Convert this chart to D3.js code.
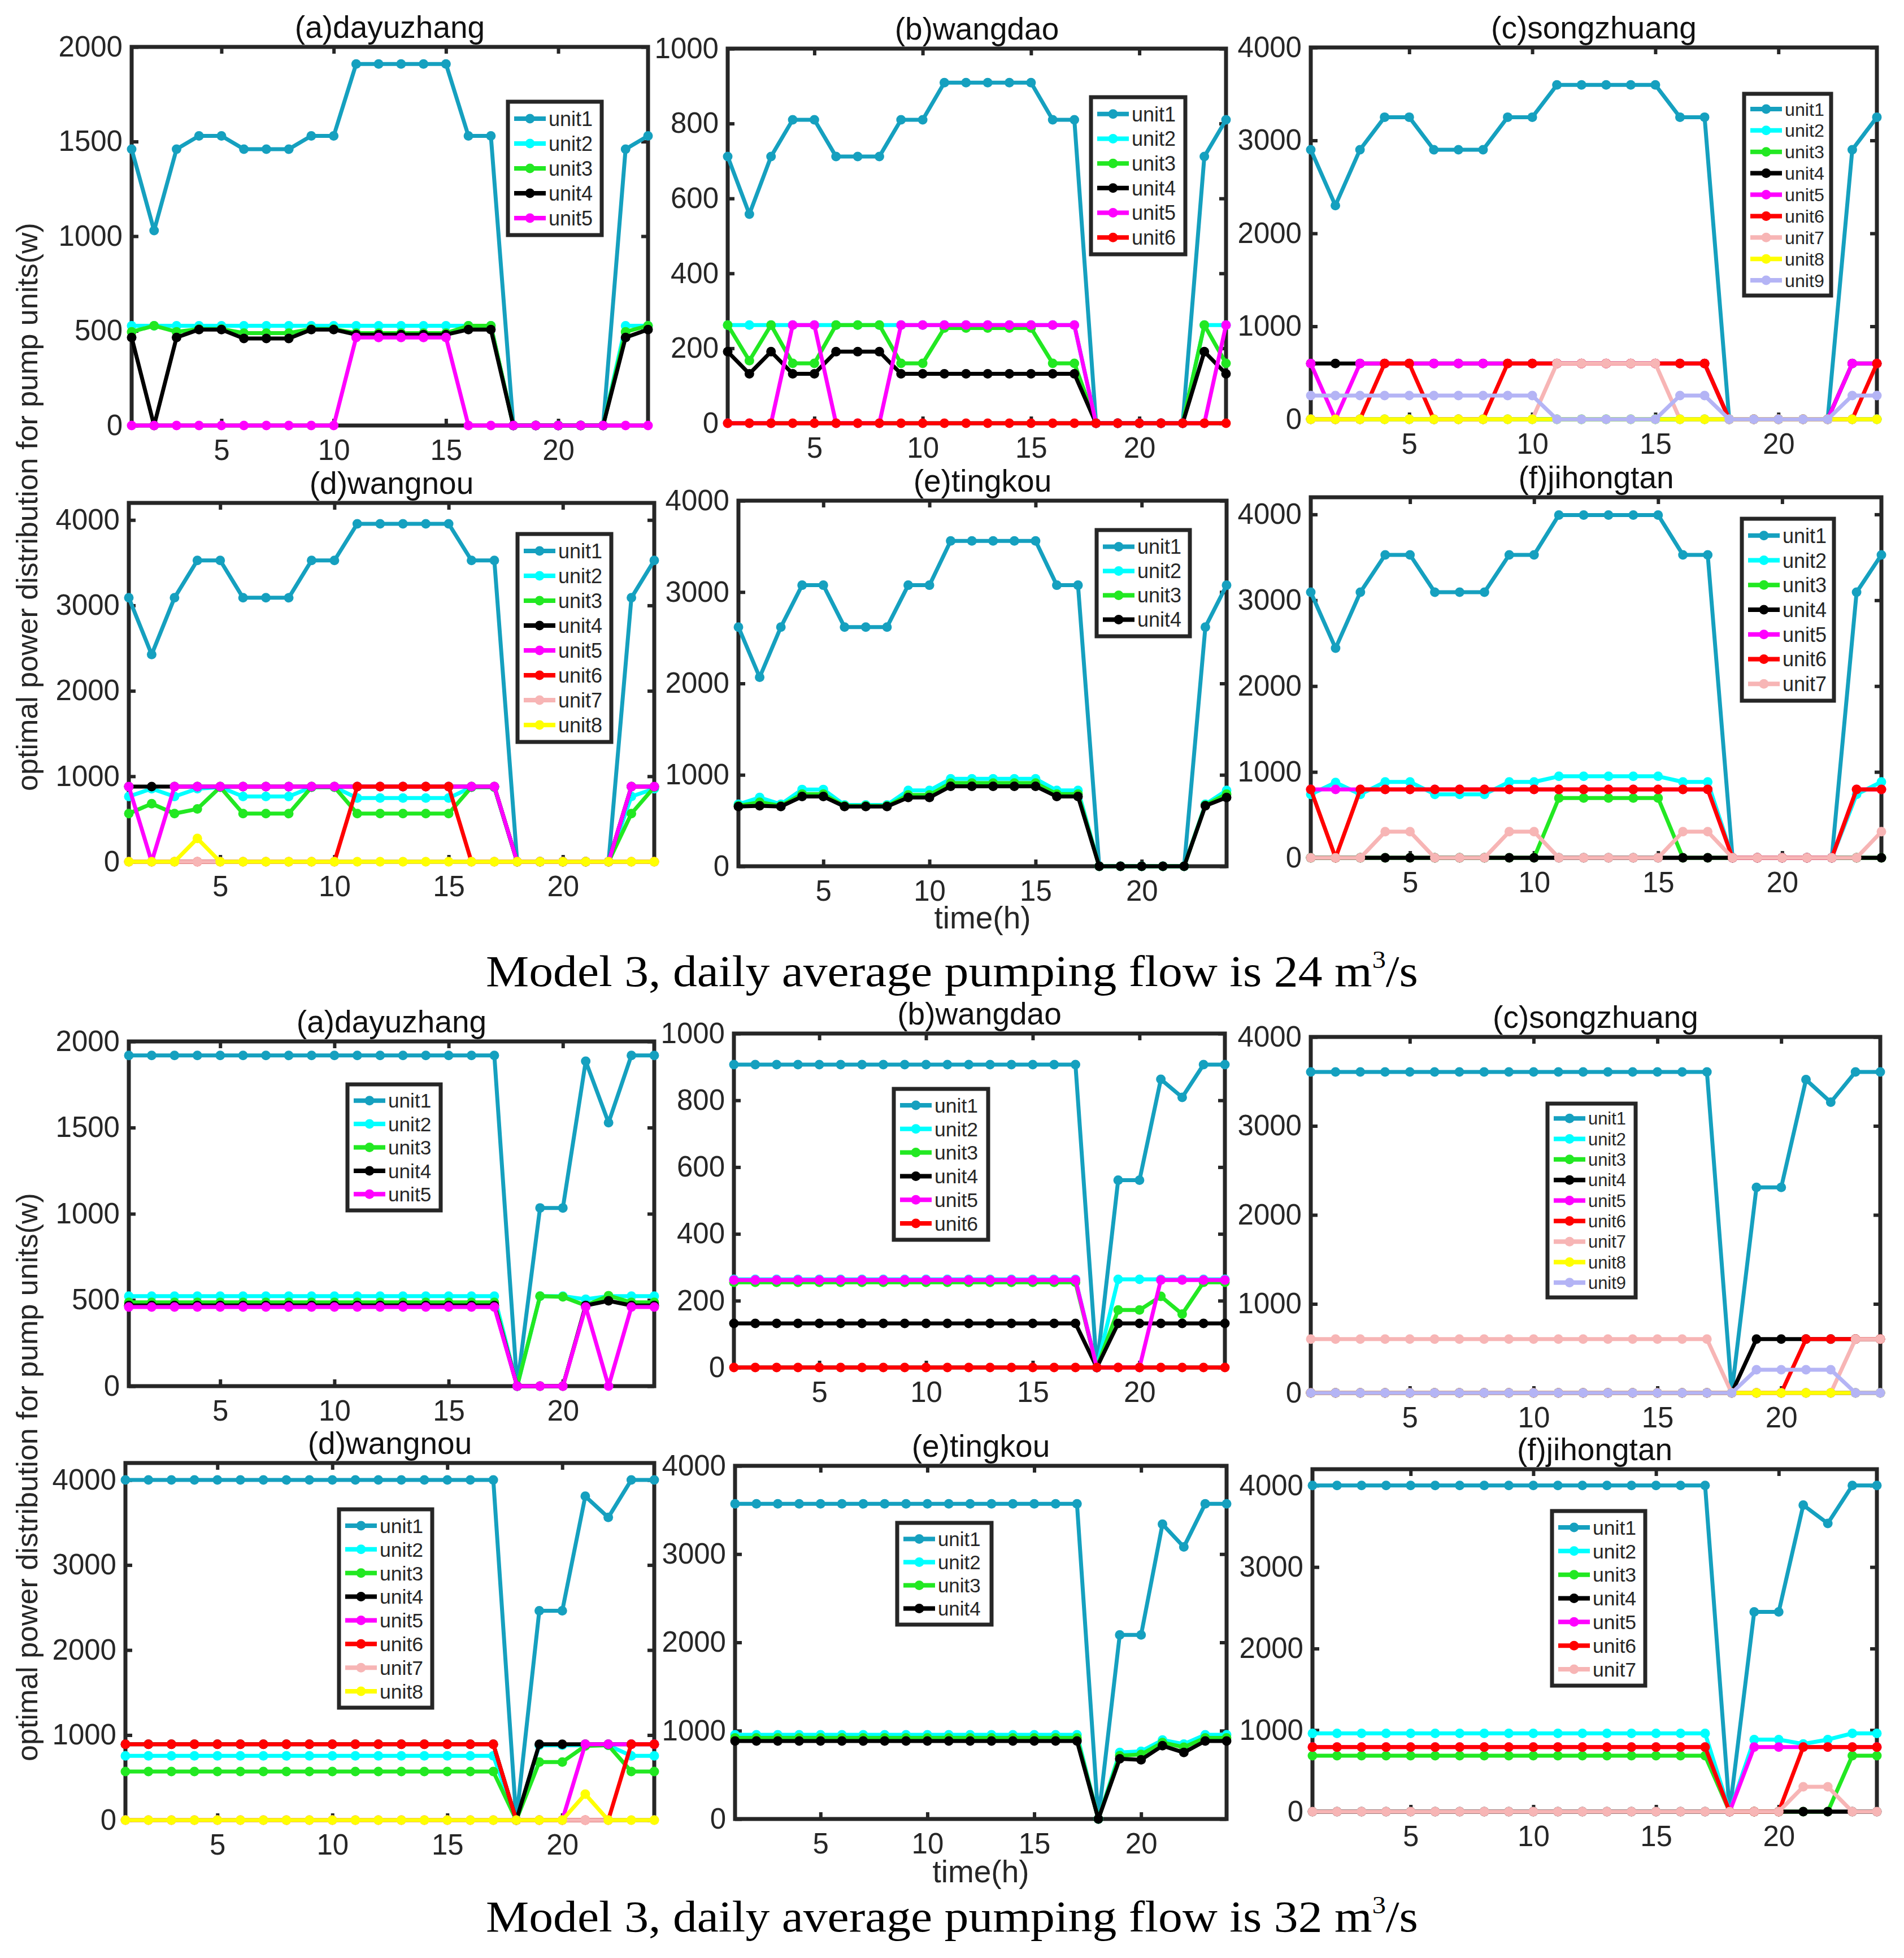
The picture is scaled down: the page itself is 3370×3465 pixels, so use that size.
<!DOCTYPE html>
<html>
<head>
<meta charset="utf-8">
<script src="https://cdn.jsdelivr.net/npm/d3@7"></script>
<style>
  html, body { margin: 0; padding: 0; background: #fff; }
  svg { display: block; }
</style>
</head>
<body>
<svg id="chart" width="3370" height="3465"></svg>
<script>
// hours on the x axis
const hours = [1,2,3,4,5,6,7,8,9,10,11,12,13,14,15,16,17,18,19,20,21,22,23,24];
const unitNames = ['unit1','unit2','unit3','unit4','unit5','unit6','unit7','unit8','unit9'];
const unitColors = ['#15a0bf','#00ffff','#22e822','#000000','#ff00ff','#ff0000','#f7b5b5','#ffff00','#b4b4f5'];
const xTicks = [5,10,15,20];
const yTicks2000 = [0,500,1000,1500,2000];
const yTicks1000 = [0,200,400,600,800,1000];
const yTicks4000 = [0,1000,2000,3000,4000];
const yLabel = 'optimal power distribution for pump units(w)';
const xLabel = 'time(h)';

// ---- daily average pumping flow 24 m3/s ----
const dayuzhang24 = [
  [1460,1030,1460,1530,1530,1460,1460,1460,1530,1530,1910,1910,1910,1910,1910,1530,1530,0,0,0,0,0,1460,1530],
  [527,527,527,527,527,527,527,527,527,527,527,527,527,527,527,527,527,0,0,0,0,0,527,527],
  [495,527,495,510,510,488,488,488,510,510,488,488,488,488,488,527,527,0,0,0,0,0,495,527],
  [465,0,465,507,507,460,460,460,507,507,480,480,480,480,480,507,507,0,0,0,0,0,465,507],
  [0,0,0,0,0,0,0,0,0,0,465,465,465,465,465,0,0,0,0,0,0,0,0,0]
];
const wangdao24 = [
  [712,558,712,810,810,712,712,712,810,810,909,909,909,909,909,810,810,0,0,0,0,0,712,810],
  [262,262,262,262,262,262,262,262,262,262,262,262,262,262,262,262,262,0,0,0,0,0,262,262],
  [262,167,262,160,160,262,262,262,160,160,254,254,254,254,254,160,160,0,0,0,0,0,262,160],
  [191,132,191,132,132,191,191,191,132,132,132,132,132,132,132,132,132,0,0,0,0,0,191,132],
  [0,0,0,262,262,0,0,0,262,262,262,262,262,262,262,262,262,0,0,0,0,0,0,262],
  [0,0,0,0,0,0,0,0,0,0,0,0,0,0,0,0,0,0,0,0,0,0,0,0]
];
const songzhuang24 = [
  [2900,2300,2900,3250,3250,2900,2900,2900,3250,3250,3597,3597,3597,3597,3597,3250,3250,0,0,0,0,0,2900,3250],
  [0,0,0,0,0,0,0,0,0,0,0,0,0,0,0,0,0,0,0,0,0,0,0,0],
  [0,0,0,0,0,0,0,0,0,0,0,0,0,0,0,0,0,0,0,0,0,0,0,0],
  [600,600,600,600,600,600,600,600,600,600,600,600,600,600,600,600,600,0,0,0,0,0,600,600],
  [600,0,600,600,600,600,600,600,600,600,600,600,600,600,600,600,600,0,0,0,0,0,600,600],
  [0,0,0,600,600,0,0,0,600,600,600,600,600,600,600,600,600,0,0,0,0,0,0,600],
  [0,0,0,0,0,0,0,0,0,0,600,600,600,600,600,0,0,0,0,0,0,0,0,0],
  [0,0,0,0,0,0,0,0,0,0,0,0,0,0,0,0,0,0,0,0,0,0,0,0],
  [255,255,255,255,255,255,255,255,255,255,0,0,0,0,0,255,255,0,0,0,0,0,255,255]
];
const wangnou24 = [
  [3090,2425,3090,3527,3527,3090,3090,3090,3527,3527,3956,3956,3956,3956,3956,3527,3527,0,0,0,0,0,3090,3527],
  [764,855,764,855,873,764,764,764,873,873,745,745,745,745,745,873,873,0,0,0,0,0,764,855],
  [564,680,564,618,873,564,564,564,873,873,564,564,564,564,564,873,873,0,0,0,0,0,564,873],
  [880,880,880,880,880,880,880,880,880,880,880,880,880,880,880,880,880,0,0,0,0,0,880,880],
  [880,0,880,880,880,880,880,880,880,880,880,880,880,880,880,880,880,0,0,0,0,0,880,880],
  [0,0,0,0,0,0,0,0,0,0,880,880,880,880,880,0,0,0,0,0,0,0,0,0],
  [0,0,0,0,0,0,0,0,0,0,0,0,0,0,0,0,0,0,0,0,0,0,0,0],
  [0,0,0,273,0,0,0,0,0,0,0,0,0,0,0,0,0,0,0,0,0,0,0,0]
];
const tingkou24 = [
  [2617,2068,2617,3075,3075,2617,2617,2617,3075,3075,3559,3559,3559,3559,3559,3075,3075,0,0,0,0,0,2617,3075],
  [678,752,678,840,840,671,671,671,830,830,956,956,956,956,956,830,830,0,0,0,0,0,678,830],
  [662,700,662,790,790,660,660,660,780,780,910,910,910,910,910,790,790,0,0,0,0,0,668,790],
  [654,661,654,763,763,654,654,654,752,752,875,875,875,875,875,763,763,0,0,0,0,0,661,752]
];
const jihongtan24 = [
  [3094,2442,3094,3529,3529,3094,3094,3094,3529,3529,3993,3993,3993,3993,3993,3529,3529,0,0,0,0,0,3094,3529],
  [739,877,739,884,884,739,739,739,884,884,949,949,949,949,949,884,884,0,0,0,0,0,739,884],
  [0,0,0,0,0,0,0,0,0,0,696,696,696,696,696,0,0,0,0,0,0,0,0,0],
  [0,0,0,0,0,0,0,0,0,0,0,0,0,0,0,0,0,0,0,0,0,0,0,0],
  [797,797,797,797,797,797,797,797,797,797,797,797,797,797,797,797,797,0,0,0,0,0,797,797],
  [797,0,797,797,797,797,797,797,797,797,797,797,797,797,797,797,797,0,0,0,0,0,797,797],
  [0,0,0,304,304,0,0,0,304,304,0,0,0,0,0,304,304,0,0,0,0,0,0,304]
];

// ---- daily average pumping flow 32 m3/s ----
const dayuzhang32 = [
  [1919,1919,1919,1919,1919,1919,1919,1919,1919,1919,1919,1919,1919,1919,1919,1919,1919,0,1034,1034,1885,1529,1919,1919],
  [522,522,522,522,522,522,522,522,522,522,522,522,522,522,522,522,522,0,522,522,504,522,522,522],
  [486,486,486,486,486,486,486,486,486,486,486,486,486,486,486,486,486,0,522,518,468,525,486,486],
  [468,468,468,468,468,468,468,468,468,468,468,468,468,468,468,468,468,0,0,0,468,495,468,468],
  [459,459,459,459,459,459,459,459,459,459,459,459,459,459,459,459,459,0,0,0,459,0,459,459]
];
const wangdao32 = [
  [907,907,907,907,907,907,907,907,907,907,907,907,907,907,907,907,907,0,561,561,863,809,907,907],
  [264,264,264,264,264,264,264,264,264,264,264,264,264,264,264,264,264,0,264,264,264,264,264,264],
  [255,255,255,255,255,255,255,255,255,255,255,255,255,255,255,255,255,0,172,172,213,160,255,255],
  [132,132,132,132,132,132,132,132,132,132,132,132,132,132,132,132,132,0,132,132,132,132,132,132],
  [262,262,262,262,262,262,262,262,262,262,262,262,262,262,262,262,262,0,0,0,262,262,262,262],
  [0,0,0,0,0,0,0,0,0,0,0,0,0,0,0,0,0,0,0,0,0,0,0,0]
];
const songzhuang32 = [
  [3607,3607,3607,3607,3607,3607,3607,3607,3607,3607,3607,3607,3607,3607,3607,3607,3607,0,2310,2310,3520,3266,3607,3607],
  [0,0,0,0,0,0,0,0,0,0,0,0,0,0,0,0,0,0,0,0,0,0,0,0],
  [0,0,0,0,0,0,0,0,0,0,0,0,0,0,0,0,0,0,0,0,0,0,0,0],
  [0,0,0,0,0,0,0,0,0,0,0,0,0,0,0,0,0,0,605,605,605,605,605,605],
  [0,0,0,0,0,0,0,0,0,0,0,0,0,0,0,0,0,0,0,0,0,0,0,0],
  [0,0,0,0,0,0,0,0,0,0,0,0,0,0,0,0,0,0,0,0,605,605,605,605],
  [605,605,605,605,605,605,605,605,605,605,605,605,605,605,605,605,605,0,0,0,0,0,605,605],
  [0,0,0,0,0,0,0,0,0,0,0,0,0,0,0,0,0,0,0,0,0,0,0,0],
  [0,0,0,0,0,0,0,0,0,0,0,0,0,0,0,0,0,0,261,261,261,261,0,0]
];
const wangnou32 = [
  [4000,4000,4000,4000,4000,4000,4000,4000,4000,4000,4000,4000,4000,4000,4000,4000,4000,0,2462,2462,3809,3560,4000,4000],
  [756,756,756,756,756,756,756,756,756,756,756,756,756,756,756,756,756,0,880,880,880,880,756,756],
  [572,572,572,572,572,572,572,572,572,572,572,572,572,572,572,572,572,0,683,683,873,880,572,572],
  [892,892,892,892,892,892,892,892,892,892,892,892,892,892,892,892,892,0,892,892,892,892,892,892],
  [0,0,0,0,0,0,0,0,0,0,0,0,0,0,0,0,0,0,0,0,892,892,892,892],
  [892,892,892,892,892,892,892,892,892,892,892,892,892,892,892,892,892,0,0,0,0,0,892,892],
  [0,0,0,0,0,0,0,0,0,0,0,0,0,0,0,0,0,0,0,0,0,0,0,0],
  [0,0,0,0,0,0,0,0,0,0,0,0,0,0,0,0,0,0,0,0,305,0,0,0]
];
const tingkou32 = [
  [3569,3569,3569,3569,3569,3569,3569,3569,3569,3569,3569,3569,3569,3569,3569,3569,3569,0,2085,2085,3339,3081,3569,3569],
  [954,954,954,954,954,954,954,954,954,954,954,954,954,954,954,954,954,0,753,767,894,848,954,954],
  [919,919,919,919,919,919,919,919,919,919,919,919,919,919,919,919,919,0,717,731,866,813,919,919],
  [883,883,883,883,883,883,883,883,883,883,883,883,883,883,883,883,883,0,682,671,830,753,883,883]
];
const jihongtan32 = [
  [4000,4000,4000,4000,4000,4000,4000,4000,4000,4000,4000,4000,4000,4000,4000,4000,4000,0,2450,2450,3760,3535,4000,4000],
  [960,960,960,960,960,960,960,960,960,960,960,960,960,960,960,960,960,0,884,884,830,884,960,960],
  [686,686,686,686,686,686,686,686,686,686,686,686,686,686,686,686,686,0,0,0,0,0,686,686],
  [0,0,0,0,0,0,0,0,0,0,0,0,0,0,0,0,0,0,0,0,0,0,0,0],
  [792,792,792,792,792,792,792,792,792,792,792,792,792,792,792,792,792,0,792,792,792,792,792,792],
  [792,792,792,792,792,792,792,792,792,792,792,792,792,792,792,792,792,0,0,0,792,792,792,792],
  [0,0,0,0,0,0,0,0,0,0,0,0,0,0,0,0,0,0,0,0,305,305,0,0]
];

const sans = "'Liberation Sans', Arial, sans-serif";
const serif = "'Liberation Serif', 'Times New Roman', serif";
const ink = '#262626';

const svg = d3.select('#chart');

// Розкладка панелей: рамка [x0, y0, x1, y1] і легенда [x0, y0, x1, y1]
const panels = [
  { title: '(a)dayuzhang', data: dayuzhang24, ymax: 2000, yticks: yTicks2000, box: [233, 83, 1147, 753], legend: [899, 180, 1065, 416] },
  { title: '(b)wangdao', data: wangdao24, ymax: 1000, yticks: yTicks1000, box: [1288, 86, 2170, 749], legend: [1931, 172, 2098, 450] },
  { title: '(c)songzhuang', data: songzhuang24, ymax: 4000, yticks: yTicks4000, box: [2320, 84, 3322, 742], legend: [3087, 166, 3241, 523] },
  { title: '(d)wangnou', data: wangnou24, ymax: 4200, yticks: yTicks4000, box: [228, 890, 1158, 1525], legend: [916, 945, 1082, 1313] },
  { title: '(e)tingkou', data: tingkou24, ymax: 4000, yticks: yTicks4000, box: [1307, 886, 2171, 1533], legend: [1941, 938, 2106, 1126], xlabel: 1643 },
  { title: '(f)jihongtan', data: jihongtan24, ymax: 4200, yticks: yTicks4000, box: [2320, 880, 3330, 1518], legend: [3083, 918, 3246, 1240] },

  { title: '(a)dayuzhang', data: dayuzhang32, ymax: 2000, yticks: yTicks2000, box: [228, 1843, 1158, 2453], legend: [615, 1919, 780, 2142] },
  { title: '(b)wangdao', data: wangdao32, ymax: 1000, yticks: yTicks1000, box: [1299, 1829, 2168, 2420], legend: [1582, 1927, 1749, 2194] },
  { title: '(c)songzhuang', data: songzhuang32, ymax: 4000, yticks: yTicks4000, box: [2320, 1835, 3328, 2465], legend: [2739, 1953, 2895, 2296] },
  { title: '(d)wangnou', data: wangnou32, ymax: 4200, yticks: yTicks4000, box: [222, 2589, 1158, 3221], legend: [600, 2671, 765, 3022] },
  { title: '(e)tingkou', data: tingkou32, ymax: 4000, yticks: yTicks4000, box: [1301, 2594, 2171, 3219], legend: [1588, 2695, 1755, 2875], xlabel: 3331 },
  { title: '(f)jihongtan', data: jihongtan32, ymax: 4200, yticks: yTicks4000, box: [2323, 2600, 3322, 3206], legend: [2747, 2674, 2912, 2983] }
];

function drawPanel(p) {
  const [x0, y0, x1, y1] = p.box;
  const g = svg.append('g');

  const x = d3.scaleLinear().domain([1, 24]).range([x0, x1]);
  const y = d3.scaleLinear().domain([0, p.ymax]).range([y1, y0]);

  // рамка
  g.append('rect')
    .attr('x', x0).attr('y', y0)
    .attr('width', x1 - x0).attr('height', y1 - y0)
    .style('fill', 'none')
    .style('stroke', ink)
    .style('stroke-width', 7);

  // осі з тіками всередину
  g.append('g').attr('transform', `translate(0, ${y1})`)
    .call(d3.axisBottom(x).tickValues(xTicks).tickSize(-12).tickPadding(25).tickFormat(d3.format('d')));
  g.append('g').attr('transform', `translate(0, ${y0})`)
    .call(d3.axisTop(x).tickValues(xTicks).tickSize(-12).tickFormat(''));
  g.append('g').attr('transform', `translate(${x0}, 0)`)
    .call(d3.axisLeft(y).tickValues(p.yticks).tickSize(-12).tickPadding(16).tickFormat(d3.format('d')));
  g.append('g').attr('transform', `translate(${x1}, 0)`)
    .call(d3.axisRight(y).tickValues(p.yticks).tickSize(-12).tickFormat(''));

  g.selectAll('.domain').remove();
  g.selectAll('.tick line').style('stroke', ink).style('stroke-width', 6);
  g.selectAll('.tick text')
    .style('font-family', sans)
    .style('font-size', '51px')
    .style('fill', ink);

  // заголовок
  g.append('text')
    .attr('x', (x0 + x1) / 2)
    .attr('y', y0 - 16)
    .attr('text-anchor', 'middle')
    .style('font-family', sans)
    .style('font-size', '55px')
    .style('fill', '#111')
    .text(p.title);

  const line = d3.line().x((d, i) => x(hours[i])).y(d => y(d));

  p.data.forEach((values, k) => {
    g.append('path')
      .datum(values)
      .attr('d', line)
      .style('fill', 'none')
      .style('stroke', unitColors[k])
      .style('stroke-width', 7)
      .style('stroke-linejoin', 'round');

    g.append('g')
      .selectAll('circle')
      .data(values)
      .enter()
      .append('circle')
      .attr('cx', (d, i) => x(hours[i]))
      .attr('cy', d => y(d))
      .attr('r', 8.5)
      .style('fill', unitColors[k]);
  });

  // легенда
  const [lx0, ly0, lx1, ly1] = p.legend;
  const n = p.data.length;
  const pad = 8;
  const rowH = (ly1 - ly0 - 2 * pad) / n;
  const fs = Math.min(36, rowH * 0.85);

  g.append('rect')
    .attr('x', lx0).attr('y', ly0)
    .attr('width', lx1 - lx0).attr('height', ly1 - ly0)
    .style('fill', '#fff')
    .style('stroke', ink)
    .style('stroke-width', 7);

  p.data.forEach((values, k) => {
    const cy = ly0 + pad + (k + 0.5) * rowH;
    g.append('line')
      .attr('x1', lx0 + 11).attr('x2', lx0 + 67)
      .attr('y1', cy).attr('y2', cy)
      .style('stroke', unitColors[k])
      .style('stroke-width', 8);
    g.append('circle')
      .attr('cx', lx0 + 39).attr('cy', cy).attr('r', 8.5)
      .style('fill', unitColors[k]);
    g.append('text')
      .attr('x', lx0 + 72)
      .attr('y', cy)
      .attr('dy', '0.36em')
      .style('font-family', sans)
      .style('font-size', fs + 'px')
      .style('fill', ink)
      .text(unitNames[k]);
  });

  if (p.xlabel) {
    g.append('text')
      .attr('x', (x0 + x1) / 2)
      .attr('y', p.xlabel)
      .attr('text-anchor', 'middle')
      .style('font-family', sans)
      .style('font-size', '55px')
      .style('fill', ink)
      .text(xLabel);
  }
}

panels.forEach(drawPanel);

// підписи осі Y для обох блоків
[897, 2614].forEach(cy => {
  svg.append('text')
    .attr('transform', `translate(66, ${cy}) rotate(-90)`)
    .attr('text-anchor', 'middle')
    .style('font-family', sans)
    .style('font-size', '52px')
    .style('fill', ink)
    .text(yLabel);
});

// підписи моделей під кожним блоком
[[1745, '24'], [3418, '32']].forEach(([by, flow]) => {
  const t = svg.append('text')
    .attr('x', 1685)
    .attr('y', by)
    .attr('text-anchor', 'middle')
    .attr('textLength', 1650)
    .attr('lengthAdjust', 'spacingAndGlyphs')
    .style('font-family', serif)
    .style('font-size', '78px')
    .style('fill', '#000');
  t.append('tspan').text(`Model 3, daily average pumping flow is ${flow} m`);
  t.append('tspan').attr('dy', -32).style('font-size', '44px').text('3');
  t.append('tspan').attr('dy', 32).text('/s');
});
</script>
</body>
</html>
